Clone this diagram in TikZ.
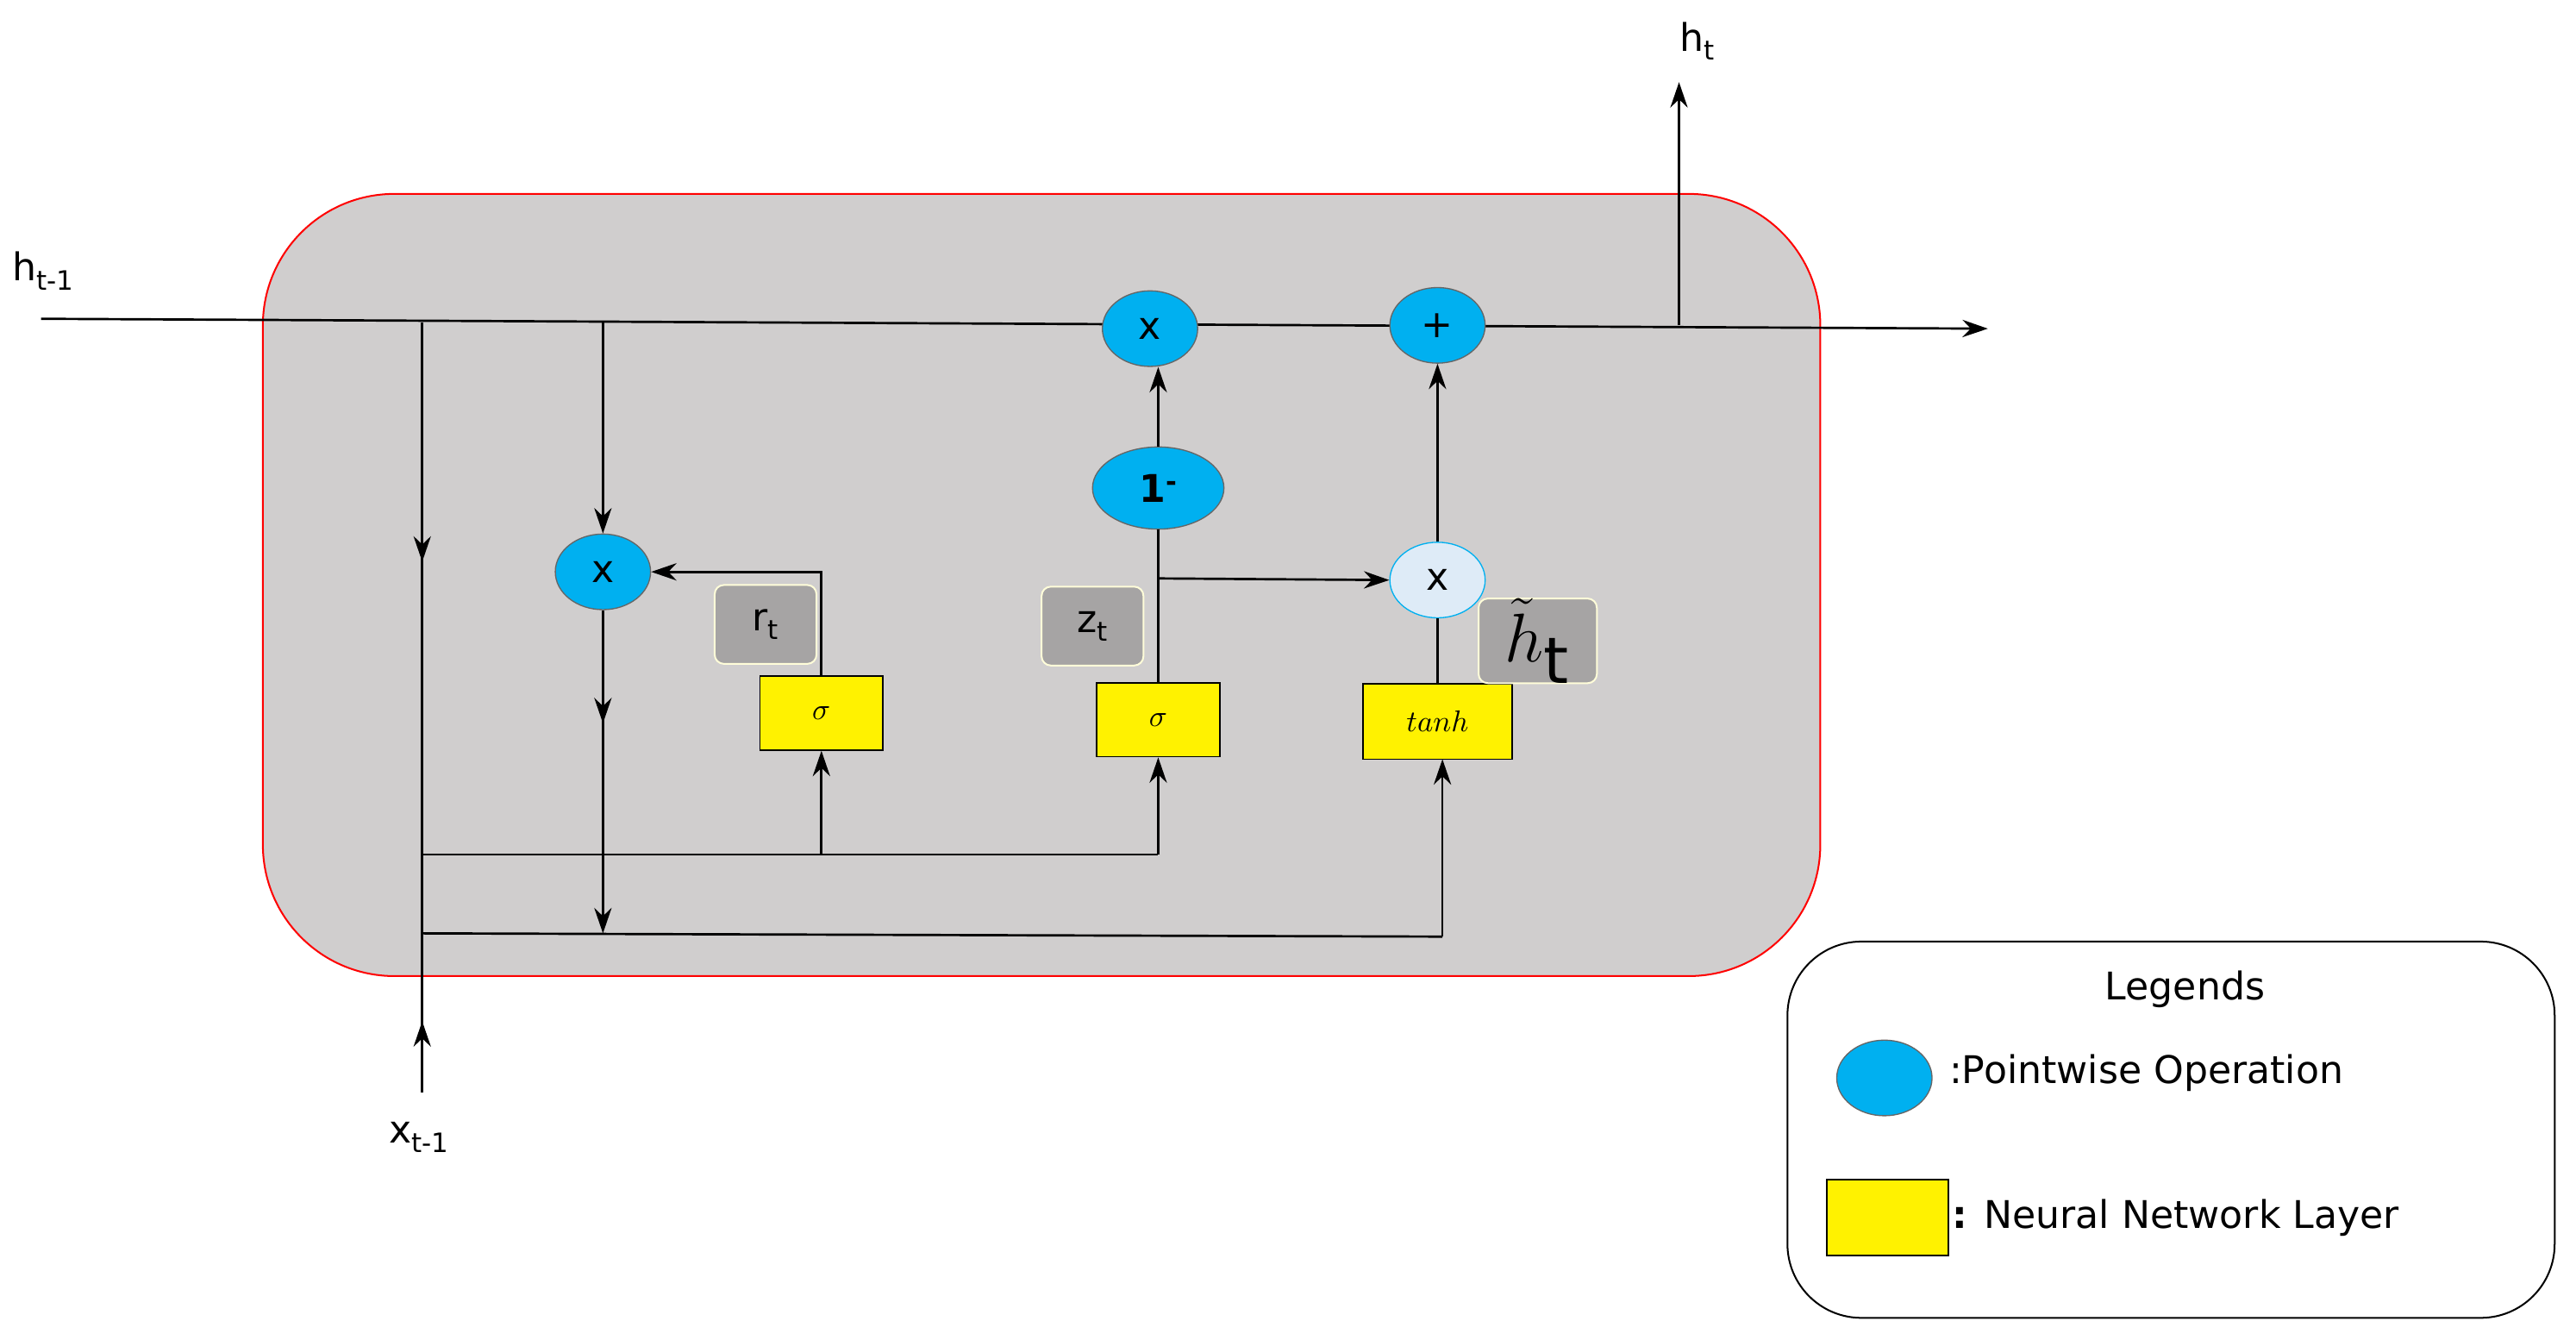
\documentclass[tikz,border=0pt]{standalone}
\usepackage{fontspec}
\setmainfont{DejaVu Sans}
\usetikzlibrary{arrows.meta,decorations.markings,shapes.geometric}
\definecolor{cellg}{RGB}{208,206,206}
\definecolor{opb}{RGB}{0,176,240}
\definecolor{lb}{RGB}{222,235,247}
\definecolor{lbl}{RGB}{166,164,164}
\newcommand{\gmath}[1]{\scalebox{2.6}{$#1$}}
\begin{document}
\begin{tikzpicture}[x=0.05cm,y=-0.05cm,
 >={Stealth[length=22pt,width=15pt]},
 ln/.style={line width=2pt},
 op/.style={ellipse,draw=black!60,line width=1pt,fill=opb,minimum width=58*0.05cm,minimum height=46*0.05cm,inner sep=0pt,font=\fontsize{33}{38}\selectfont},
 nn/.style={draw,line width=1.2pt,fill=yellow,inner sep=0pt},
 tag/.style={rounded corners=8pt,fill=lbl,draw=white!85!yellow,line width=1.5pt,minimum width=62*0.05cm,minimum height=48*0.05cm,inner sep=0pt,font=\fontsize{33}{38}\selectfont},
 txt/.style={font=\fontsize{33}{38}\selectfont},
 midarr/.style={postaction={decorate},decoration={markings,mark=at position #1 with {\arrow{>}}}}]
\useasboundingbox (0,0) rectangle (1568,815);
\draw[fill=cellg,draw=red,line width=1.5pt,rounded corners=80*0.05cm] (160,118) rectangle (1108,594);
% main line
\coordinate (hin) at (25,194);
\coordinate (hout) at (1210,200);
\draw[ln,->] (hin) -- (hout);
\node[op] (m1) at (700,200) {x};
\node[op] (pl) at (875,198) {+};
\node[txt,anchor=west] (hl) at (5,165) {h\textsubscript{t-1}};
\coordinate (ht0) at (1022,198);
\coordinate (ht1) at (1022,50);
\draw[ln,->] (ht0) -- (ht1);
\node[txt] (htl) at (1033,25) {h\textsubscript{t}};
% left trunk
\coordinate (a0) at (257,196); \coordinate (a1) at (257,520); \coordinate (a2) at (257,568);
\coordinate (xb) at (257,665);
\draw[ln,midarr=0.45] (a0) -- (a1);
\draw[ln,midarr=0.3] (xb) -- (a2) -- (a1);
\node[txt] (xl) at (255,692) {x\textsubscript{t-1}};
% reset
\node[op] (mr) at (367,348) {x};
\node[nn,minimum width=75*0.05cm,minimum height=45*0.05cm] (sr) at (500,434) {\gmath{\sigma}};
\node[tag] (rt) at (466,380) {r\textsubscript{t}};
\coordinate (r0) at (367,196);
\draw[ln,->] (r0) -- (mr);
\coordinate (r2) at (367,568);
\draw[ln,->,midarr=0.35] (mr) -- (r2);
\draw[ln,->] (sr.north) |- (mr.east);
\coordinate (b1) at (705,520);
\draw[ln] (a1) -- (b1);
\draw[ln,->] (500,520) -- (sr.south);
% update
\node[nn,minimum width=75*0.05cm,minimum height=45*0.05cm] (sz) at (705,438) {\gmath{\sigma}};
\node[tag] (zt) at (665,381) {z\textsubscript{t}};
\node[op,minimum width=80*0.05cm,minimum height=50*0.05cm] (om) at (705,297) {\textbf{1\textsuperscript{-}}};
\draw[ln,->] (b1) -- (sz.south);
\draw[ln] (sz.north) -- (om.south);
\draw[ln,->] (om.north) -- (om.north |- m1.south);
\node[op,fill=lb,draw=opb] (mh) at (875,353) {x};
\coordinate (zb) at (705,352);
\draw[ln,->] (zb) -- (mh.west);
% candidate
\node[nn,minimum width=91*0.05cm,minimum height=46*0.05cm] (th) at (875,439) {\gmath{tanh}};
\node[tag,minimum width=72*0.05cm] (hh) at (936,390) {\scalebox{2.4}{$\tilde{h}_{\mathrm{t}}$}};
\coordinate (c2) at (878,570);
\draw[ln] (a2) -- (c2);
\draw[ln,->] (c2) -- (878,462);
\draw[ln] (th.north) -- (mh.south);
\draw[ln,->] (mh.north) -- (pl.south);
% legend
\draw[fill=white,line width=1.5pt,rounded corners=45*0.05cm] (1088,573) rectangle (1555,802);
\node[txt] (lg) at (1330,602) {Legends};
\node[op,minimum width=58*0.05cm,minimum height=46*0.05cm] (le) at (1147,656) {};
\node[txt,anchor=west] (lt1) at (1184,653) {:Pointwise Operation};
\node[draw,line width=1.2pt,fill=yellow,minimum width=74*0.05cm,minimum height=46*0.05cm] (lr) at (1149,741) {};
\node[txt,anchor=west] (lt2) at (1186,741) {\textbf{:} Neural Network Layer};
\end{tikzpicture}
\end{document}
